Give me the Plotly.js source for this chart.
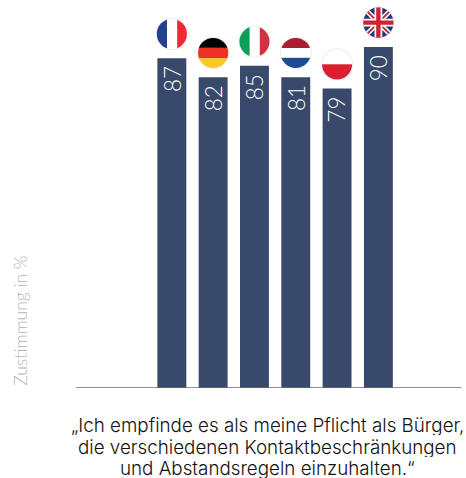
<!DOCTYPE html>
<html><head><meta charset="utf-8">
<script src="https://cdn.plot.ly/plotly-3.0.1.min.js"></script>
<style>html,body{margin:0;padding:0;background:#fff}#c{width:466px;height:478px}</style></head>
<body><div id="c"></div>
<script>
const countries = ["Frankreich","Deutschland","Italien","Niederlande","Polen","Großbritannien"];
const barHeights = [87,82,85,82,79,90];
const valueLabels = ["87","82","85","81","79","90"];
const yAxisTitle = "Zustimmung in %";
const captionLines = ["„Ich empfinde es als meine Pflicht als Bürger,","die verschiedenen Kontaktbeschränkungen","und Abstandsregeln einzuhalten.“"];
const flagArt = [
 '<rect width="64" height="64" fill="#fff"/><rect width="22" height="64" fill="#25408f"/><rect x="43" width="21" height="64" fill="#ee2a35"/>',
 '<rect width="64" height="22" fill="#000"/><rect y="21" width="64" height="22" fill="#ee3124"/><rect y="43" width="64" height="21" fill="#fdc724"/>',
 '<rect width="64" height="64" fill="#fff"/><rect width="22" height="64" fill="#0f9d58"/><rect x="43" width="21" height="64" fill="#cd3341"/>',
 '<rect width="64" height="22" fill="#a91f2e"/><rect y="22" width="64" height="20" fill="#fff"/><rect y="42" width="64" height="22" fill="#1c4b94"/>',
 '<rect width="64" height="32" fill="#fff"/><rect y="32" width="64" height="32" fill="#dc1f30"/>',
 '<rect width="64" height="64" fill="#24357a"/><path d="M0 0L64 64M64 0L0 64" stroke="#fff" stroke-width="10"/><path d="M0 0L64 64M64 0L0 64" stroke="#cf2333" stroke-width="4"/><path d="M32 0V64M0 32H64" stroke="#fff" stroke-width="16"/><path d="M32 0V64M0 32H64" stroke="#cf2333" stroke-width="9"/>'
];
function flagUri(art,i){
  const svg = '<svg xmlns="http://www.w3.org/2000/svg" width="160" height="160" viewBox="-4 -4 72 72"><defs><clipPath id="k'+i+'"><circle cx="32" cy="32" r="31"/></clipPath></defs><circle cx="32" cy="32" r="33" fill="#000" fill-opacity="0.07"/><g clip-path="url(#k'+i+')">'+art+'</g></svg>';
  return 'data:image/svg+xml;charset=utf-8,'+encodeURIComponent(svg);
}
const idx = countries.map((_,i)=>i);
const fontFam = "Lato, 'Open Sans', sans-serif";
const trace = {type:'bar',x:idx,y:barHeights,width:0.7,marker:{color:'#39496b',line:{width:0}},hoverinfo:'skip'};
const labelNotes = valueLabels.map((t,i)=>({xref:'x',yref:'y',x:i,y:barHeights[i],xanchor:'center',yanchor:'top',yshift:-6,textangle:-90,showarrow:false,text:t,font:{family:fontFam,size:22.5,weight:300,color:'#fff'}}));
const captionNotes = captionLines.map((t,i)=>({xref:'paper',yref:'paper',x:0.498,y:-0.065-i*0.0555,xanchor:'center',yanchor:'top',align:'center',height:20,showarrow:false,text:t,font:{family:"Inter, sans-serif",size:18.8,weight:300,color:'#111'}}));
const layout = {width:466,height:478,margin:{l:76,r:5,t:0,b:90},paper_bgcolor:'#fff',plot_bgcolor:'#fff',showlegend:false,
  xaxis:{range:[-2.32,7.0],showgrid:false,zeroline:false,showticklabels:false,ticks:'',showline:false},
  yaxis:{range:[0,102.37],showgrid:false,zeroline:false,showticklabels:false,ticks:'',showline:false},
  shapes:[{type:'line',xref:'paper',yref:'y',x0:0,x1:1,y0:0,y1:0,line:{color:'#6b6b6b',width:1.5}}],
  images:flagArt.map((a,i)=>({source:flagUri(a,i),xref:'x',yref:'y',x:i,y:barHeights[i]+6.4,xanchor:'center',yanchor:'middle',sizex:35/41.4,sizey:35/3.79,sizing:'stretch',layer:'above'})),
  annotations:[
   {xref:'paper',yref:'paper',x:-0.146,y:0,xanchor:'center',yanchor:'bottom',textangle:-90,showarrow:false,text:yAxisTitle,font:{family:fontFam,size:17.5,weight:300,color:'#b4b4b4'}},
   ...labelNotes,...captionNotes
  ]};
Plotly.newPlot('c',[trace],layout,{displayModeBar:false,staticPlot:true});
</script></body></html>
